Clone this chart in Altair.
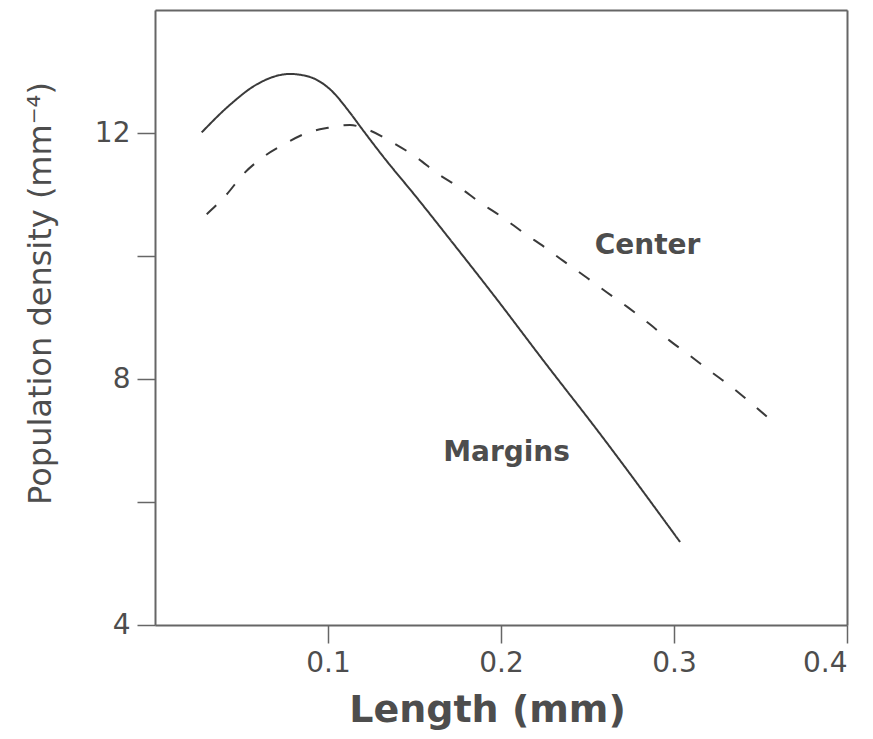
import altair as alt
import pandas as pd

# Margins (solid line)
margins_x = [0.0270, 0.0434, 0.0588, 0.0780, 0.0896, 0.1012, 0.1127, 0.1185,
             0.1318, 0.1513, 0.1705, 0.1975, 0.2245, 0.2572, 0.3035]
margins_y = [12.01, 12.46, 12.79, 12.96, 12.91, 12.71, 12.33, 12.11,
             11.62, 10.95, 10.27, 9.30, 8.30, 7.11, 5.35]

# Center (dashed line)
center_x = [0.0299, 0.0414, 0.0510, 0.0626, 0.0742, 0.0877, 0.0993, 0.1127,
            0.1224, 0.1377, 0.1513, 0.1628, 0.1763, 0.1879, 0.2013, 0.2129,
            0.2254, 0.2360, 0.2495, 0.2611, 0.2736, 0.2861, 0.2977, 0.3092,
            0.3218, 0.3333, 0.3449, 0.3574]
center_y = [10.68, 11.00, 11.33, 11.61, 11.81, 12.00, 12.08, 12.13,
            12.06, 11.84, 11.60, 11.35, 11.11, 10.87, 10.62, 10.38,
            10.14, 9.92, 9.65, 9.41, 9.16, 8.89, 8.62, 8.38,
            8.11, 7.87, 7.60, 7.30]

label_text = ["Center", "Margins"]
label_x = [0.2847, 0.2032]
label_y = [10.03, 6.67]

x_ticks = [0.1, 0.2, 0.3, 0.4]
y_ticks = [4, 6, 8, 10, 12]

df = pd.concat([
    pd.DataFrame({"x": margins_x, "y": margins_y, "series": "Margins"}),
    pd.DataFrame({"x": center_x, "y": center_y, "series": "Center"}),
], ignore_index=True)

labels = pd.DataFrame({"text": label_text, "x": label_x, "y": label_y})

AX = "#666666"
TXT = "#4d4d4d"
FONT = "DejaVu Sans"

x_scale = alt.Scale(domain=[0, 0.4], nice=False, zero=False)
y_scale = alt.Scale(domain=[4, 14], nice=False, zero=False)

x_axis = alt.Axis(
    values=x_ticks, format=".1f", title="Length (mm)", grid=False,
    tickSize=18, tickColor=AX, tickWidth=1.5,
    domainColor=AX, domainWidth=2,
    labelFont=FONT, labelFontSize=28, labelColor=TXT, labelPadding=6,
    titleFont=FONT, titleFontSize=38, titleFontWeight="bold", titleColor=TXT,
    titleX=332, titleY=96, titleAlign="center", titleBaseline="alphabetic",
)
y_axis = alt.Axis(
    values=y_ticks, format="d", title="Population density (mm⁻⁴)", grid=False,
    labelExpr="datum.value % 4 == 0 ? datum.label : ''",
    tickSize=18, tickColor=AX, tickWidth=1.5,
    domainColor=AX, domainWidth=2,
    labelFont=FONT, labelFontSize=28, labelColor=TXT, labelPadding=7,
    titleFont=FONT, titleFontSize=32, titleFontWeight="normal", titleColor=TXT,
    titleX=-105, titleY=283, titleAngle=270, titleAlign="center",
    titleBaseline="alphabetic",
)

# frame axes (top and right) with no ticks or labels
x_top = alt.Axis(orient="top", labels=False, ticks=False, title=None, grid=False,
                 domainColor=AX, domainWidth=2)
y_right = alt.Axis(orient="right", labels=False, ticks=False, title=None, grid=False,
                   domainColor=AX, domainWidth=2)

lines = alt.Chart(df).mark_line(
    strokeWidth=2, color="#3a3a3a", interpolate="monotone"
).encode(
    x=alt.X("x:Q", scale=x_scale, axis=x_axis),
    y=alt.Y("y:Q", scale=y_scale, axis=y_axis),
    detail="series:N",
    strokeDash=alt.StrokeDash(
        "series:N",
        scale=alt.Scale(domain=["Margins", "Center"], range=[[1, 0], [13, 15]]),
        legend=None,
    ),
)

texts = alt.Chart(labels).mark_text(
    font=FONT, fontSize=28, fontWeight="bold", color=TXT,
    align="center", baseline="alphabetic",
).encode(
    x=alt.X("x:Q", scale=x_scale, axis=x_top),
    y=alt.Y("y:Q", scale=y_scale, axis=y_right),
    text="text:N",
)

chart = alt.layer(lines, texts).resolve_axis(
    x="independent", y="independent"
).properties(
    width=692, height=615,
    autosize=alt.AutoSizeParams(type="none"),
    padding={"left": 147, "top": 2, "right": 18, "bottom": 106},
).configure_view(
    stroke=None,
).configure(background="white")

chart.save("out.html", embed_options={"renderer": "svg", "actions": False})
